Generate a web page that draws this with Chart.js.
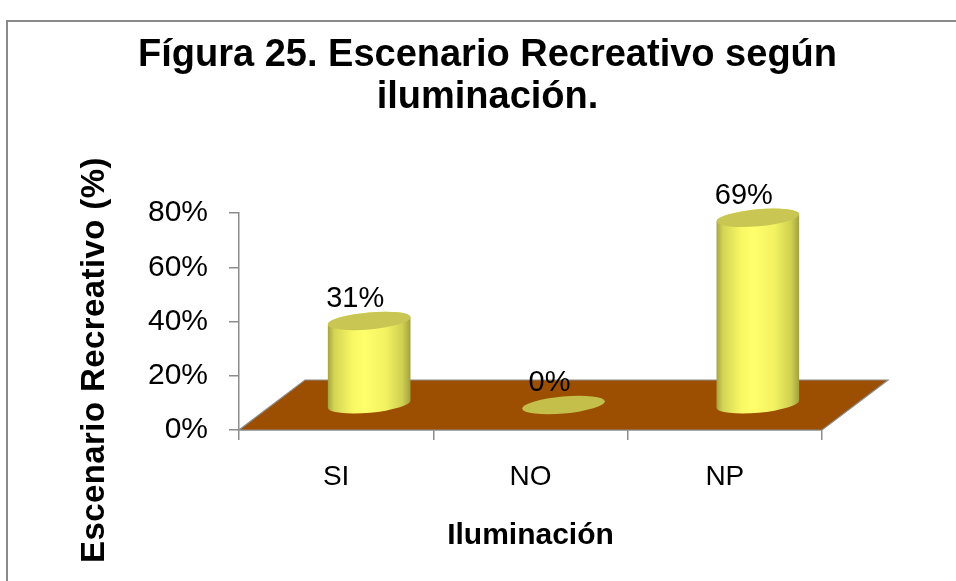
<!DOCTYPE html>
<html><head><meta charset="utf-8">
<script src="https://cdn.jsdelivr.net/npm/chart.js@4.4.1/dist/chart.umd.min.js"></script>
<style>html,body{margin:0;padding:0;background:#fff}canvas{display:block}</style>
</head><body>
<canvas id="c" width="956" height="581"></canvas>
<script>
// ---- data ----
const categories = ['SI', 'NO', 'NP'];
const values = [31, 0, 69];
const yTickValues = [0, 20, 40, 60, 80];
const titleLines = ['Fígura 25. Escenario Recreativo según', 'iluminación.'];
const xTitle = 'Iluminación';
const yTitle = 'Escenario Recreativo (%)';

// ---- styling ----
const FONT = "'Liberation Sans', Arial, sans-serif";
const DX = 66, DY = 50;          // 3D depth offset of the floor
const AXIS = '#8c8c8c';

const framePlugin = {
  id: 'frame',
  beforeDraw(chart) {
    const ctx = chart.ctx;
    ctx.save();
    ctx.fillStyle = '#fff';
    ctx.fillRect(0, 0, chart.width, chart.height);
    ctx.strokeStyle = '#8a8a8a';
    ctx.lineWidth = 2;
    ctx.beginPath();
    ctx.moveTo(7, chart.height);
    ctx.lineTo(7, 21);
    ctx.lineTo(chart.width, 21);
    ctx.stroke();
    ctx.restore();
  }
};

const floorPlugin = {
  id: 'floor',
  beforeDatasetsDraw(chart) {
    const {ctx, chartArea: a} = chart;
    ctx.save();
    ctx.beginPath();
    ctx.moveTo(a.left, a.bottom);
    ctx.lineTo(a.right, a.bottom);
    ctx.lineTo(a.right + DX, a.bottom - DY);
    ctx.lineTo(a.left + DX, a.bottom - DY);
    ctx.closePath();
    ctx.fillStyle = '#9c4f00';
    ctx.fill();
    ctx.strokeStyle = '#8c8c8c';
    ctx.lineWidth = 1.2;
    ctx.stroke();
    ctx.restore();
  }
};

const cylinderPlugin = {
  id: 'cylinders',
  afterDatasetsDraw(chart) {
    const ctx = chart.ctx;
    const meta = chart.getDatasetMeta(0);
    const data = chart.data.datasets[0].data;
    const rot = -0.09, ry = 8.5;
    meta.data.forEach((el, i) => {
      const cx = el.x + DX / 2;
      const base = el.base - DY / 2;
      const top = el.y - DY / 2;
      const rx = el.width / 2;
      ctx.save();
      if (base - top > 0.5) {
        const g = ctx.createLinearGradient(cx - rx, 0, cx + rx, 0);
        g.addColorStop(0, '#a4a440');
        g.addColorStop(0.08, '#d4d455');
        g.addColorStop(0.3, '#f8f864');
        g.addColorStop(0.45, '#ffff6c');
        g.addColorStop(0.7, '#f2f262');
        g.addColorStop(0.9, '#d0d052');
        g.addColorStop(1, '#a0a03e');
        const c = Math.cos(rot), s = Math.sin(rot);
        ctx.beginPath();
        ctx.moveTo(cx - rx * c, top - rx * s);
        ctx.lineTo(cx - rx * c, base - rx * s);
        ctx.ellipse(cx, base, rx, ry, rot, Math.PI, 0, true);
        ctx.lineTo(cx + rx * c, top + rx * s);
        ctx.ellipse(cx, top, rx, ry, rot, 0, Math.PI, true);
        ctx.closePath();
        ctx.fillStyle = g;
        ctx.fill();
      }
      ctx.beginPath();
      ctx.ellipse(cx, top, rx, ry, rot, 0, Math.PI * 2);
      ctx.fillStyle = base - top > 0.5 ? '#c9c653' : '#c3bf4a';
      ctx.fill();
      // value label
      ctx.fillStyle = '#000';
      ctx.font = '29px ' + FONT;
      ctx.textAlign = 'center';
      ctx.textBaseline = 'middle';
      ctx.fillText(data[i] + '%', cx - 14, top - 22);
      ctx.restore();
    });
  }
};

const yTitlePlugin = {
  id: 'yTitle',
  afterDraw(chart) {
    const ctx = chart.ctx;
    ctx.save();
    ctx.translate(95, 360);
    ctx.rotate(-Math.PI / 2);
    ctx.font = 'bold 33px ' + FONT;
    if ('letterSpacing' in ctx) ctx.letterSpacing = '0.4px';
    ctx.fillStyle = '#000';
    ctx.textAlign = 'center';
    ctx.textBaseline = 'middle';
    ctx.fillText(yTitle, 0, 0);
    ctx.restore();
  }
};

new Chart(document.getElementById('c'), {
  type: 'bar',
  data: {
    labels: categories,
    datasets: [{
      data: values,
      backgroundColor: 'rgba(0,0,0,0)',
      borderWidth: 0,
      barPercentage: 0.427,
      categoryPercentage: 1,
      yAxisID: 'y'
    }]
  },
  options: {
    responsive: false,
    animation: false,
    events: [],
    layout: {padding: {left: 19, right: 0, top: 0, bottom: 0}},
    plugins: {
      legend: {display: false},
      tooltip: {enabled: false},
      title: {
        display: true,
        text: titleLines,
        color: '#000',
        font: {family: FONT, size: 38, weight: 'bold', lineHeight: 42 / 38},
        padding: {top: 35, bottom: 94}
      }
    },
    scales: {
      x: {
        type: 'category',
        position: 'bottom',
        grid: {offset: true, drawOnChartArea: false, tickLength: 10, color: AXIS, lineWidth: 1.5},
        border: {display: true, color: AXIS, width: 1.5},
        ticks: {color: '#000', font: {family: FONT, size: 28}, padding: 20, maxRotation: 0},
        title: {display: true, text: xTitle, color: '#000',
                font: {family: FONT, size: 30, weight: 'bold'}, padding: {top: 0, bottom: 27}},
        afterFit(s) { s.height = 151; }
      },
      y: {
        type: 'linear',
        position: 'left',
        min: yTickValues[0],
        max: yTickValues[yTickValues.length - 1],
        afterBuildTicks(s) { s.ticks = yTickValues.map(v => ({value: v})); },
        grid: {drawOnChartArea: false, tickLength: 10, color: AXIS, lineWidth: 1.5},
        border: {display: true, color: AXIS, width: 1.5},
        ticks: {color: '#000', font: {family: FONT, size: 30}, padding: 21,
                callback: v => v + '%'},
        title: {display: false, text: yTitle},
        afterFit(s) { s.width = 220; }
      },
      y2: {
        type: 'linear',
        position: 'right',
        display: true,
        grid: {display: false},
        border: {display: false},
        ticks: {display: false},
        afterFit(s) { s.width = 134; }
      }
    }
  },
  plugins: [framePlugin, floorPlugin, cylinderPlugin, yTitlePlugin]
});
</script>
</body></html>
